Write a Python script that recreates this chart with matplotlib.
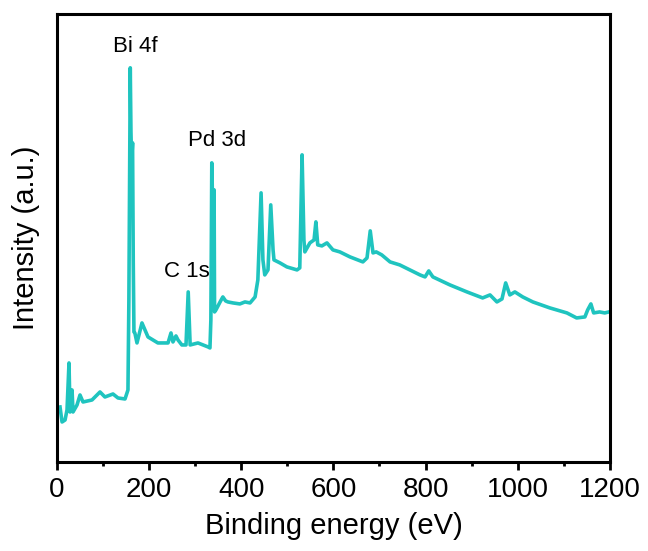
import matplotlib

matplotlib.use("Agg")
import matplotlib.pyplot as plt
import numpy as np
from matplotlib.ticker import MultipleLocator

# XPS survey (binding energy in eV, intensity in a.u.)
energy = [
    6.5, 10.9, 17.4, 21.7, 26.0, 28.2, 32.6, 34.7, 43.4, 49.9, 56.4, 75.9, 93.3, 104, 121.5,
    132.4, 147.6, 154, 156, 159, 160.5, 162, 164, 165.5, 167, 169, 173.6, 184.4, 197.5, 219,
    241, 247.4, 251.7, 258.2, 262.6, 271, 280, 284.8, 289, 306, 328, 332, 334, 336, 338.5,
    341, 342, 345, 354, 360, 366, 371, 382, 397, 408, 419, 430, 436, 443, 447, 451, 458,
    464, 469, 471, 484, 499, 521, 527, 532, 536, 538, 549, 558, 562, 566, 575,
    586, 599, 614, 636, 664, 673, 680, 686, 693, 705, 723, 744, 766, 788, 799,
    807, 816, 853, 890, 924, 940, 955, 966, 974, 983, 994, 1011, 1033, 1070, 1107,
    1128, 1146, 1152, 1159, 1165, 1178, 1189, 1198,
]
intensity = [
    55, 40, 42, 52, 99, 50, 72, 50, 57, 67, 60, 62, 70, 65, 68,
    64, 63, 72, 162, 394, 330, 300, 319, 200, 130, 129, 119, 139, 125, 119,
    119, 129, 120, 126, 122, 117, 117, 170, 117, 119, 115, 114, 142, 299, 240,
    272, 150, 152, 160, 165, 161, 160, 159, 158, 160, 159, 165, 182, 269, 202, 187, 192,
    257, 212, 202, 199, 195, 192, 194, 307, 222, 210, 219, 222, 240, 217, 216,
    219, 212, 210, 205, 200, 204, 231, 209, 210, 207, 200, 197, 192, 187, 185,
    191, 185, 177, 170, 164, 167, 160, 163, 179, 167, 170, 165, 160, 154, 149,
    144, 145, 152, 158, 149, 150, 149, 150,
]

peak_labels = ["Bi 4f", "Pd 3d", "C 1s"]
label_energy = [169, 347, 282]
label_intensity = [415, 321, 190]

plt.rcParams["font.family"] = ["Liberation Sans", "DejaVu Sans"]

fig = plt.figure(figsize=(6.48, 5.51), dpi=100)
ax = fig.add_axes([0.088, 0.1615, 0.853, 0.8135])

ax.plot(np.array(energy), np.array(intensity), color="#1fc4bf", linewidth=2.6)

for text, x, y in zip(peak_labels, label_energy, label_intensity):
    ax.text(x, y, text, fontsize=16, ha="center", va="center")

ax.set_xlim(0, 1200)
ax.set_ylim(0, 448)
ax.xaxis.set_major_locator(MultipleLocator(200))
ax.xaxis.set_minor_locator(MultipleLocator(100))
ax.set_yticks([])
ax.tick_params(axis="x", which="major", direction="out", length=6, width=2, labelsize=20, pad=5)
ax.tick_params(axis="x", which="minor", direction="out", length=3, width=2)
for spine in ax.spines.values():
    spine.set_linewidth(2.2)

ax.set_xlabel("Binding energy (eV)", fontsize=21, labelpad=6)
ax.set_ylabel("Intensity (a.u.)", fontsize=21, labelpad=12)

fig.savefig("out.png", dpi=100)
